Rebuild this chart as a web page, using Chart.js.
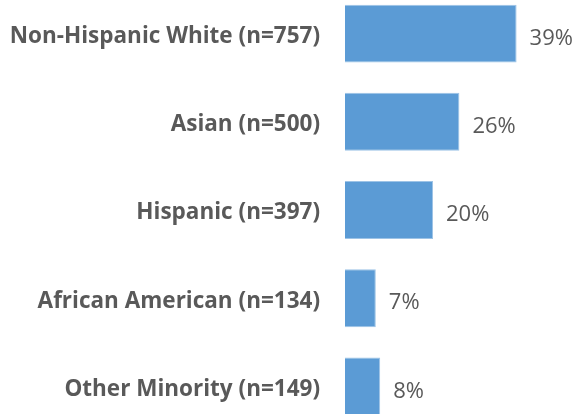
<!DOCTYPE html>
<html>
<head>
<meta charset="utf-8">
<script src="https://cdn.jsdelivr.net/npm/chart.js@4.4.1/dist/chart.umd.min.js"></script>
<style>
  html, body { margin: 0; padding: 0; background: #fff; overflow: hidden; }
  #raceChart { position: absolute; left: 0; top: -41px; }
</style>
</head>
<body>
<canvas id="raceChart" width="577" height="502"></canvas>
<script>
const categories = [
  "Non-Hispanic White (n=757)",
  "Asian (n=500)",
  "Hispanic (n=397)",
  "African American (n=134)",
  "Other Minority (n=149)"
];
const percents = [39, 26, 20, 7, 8];

// draws the "39%" style labels right of each bar
const valueLabels = {
  id: 'valueLabels',
  afterDatasetsDraw(chart) {
    const ctx = chart.ctx;
    const meta = chart.getDatasetMeta(0);
    ctx.save();
    ctx.font = '22px "Open Sans"';
    ctx.fillStyle = '#595959';
    ctx.textAlign = 'left';
    ctx.textBaseline = 'middle';
    meta.data.forEach((bar, i) => {
      ctx.fillText(percents[i] + '%', bar.x + 13, bar.y + 5);
    });
    ctx.restore();
  }
};

var ctxB = document.getElementById("raceChart").getContext('2d');

var myBarChart = new Chart(ctxB, {
  type: 'bar',
  plugins: [valueLabels],
  data: {
    labels: categories,
    datasets: [{
      data: percents,
      backgroundColor: "#5B9BD5",
      borderColor: "#9DC3E6",
      borderWidth: 1,
      barPercentage: 0.8,
      categoryPercentage: 0.82
    }]
  },
  options: {
    indexAxis: 'y',
    responsive: false,
    animation: false,
    layout: { padding: { top: 0, bottom: 0, left: 0, right: 12 } },
    plugins: {
      legend: { display: false },
      tooltip: { enabled: false }
    },
    scales: {
      x: {
        display: false,
        min: 0,
        max: 50
      },
      y: {
        grid: { display: false },
        border: { display: false },
        afterFit: (scale) => { scale.width = 345; },
        ticks: {
          padding: 17,
          labelOffset: 3,
          color: '#595959',
          font: { family: 'Open Sans', size: 22.5, weight: 'bold' }
        }
      }
    }
  }
});
</script>
</body>
</html>
